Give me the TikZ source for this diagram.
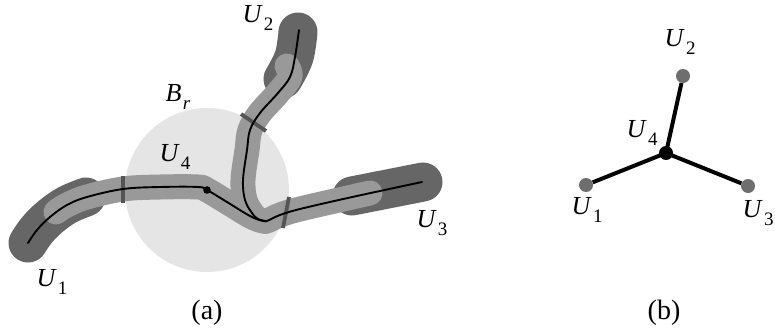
\documentclass[tikz,border=0pt]{standalone}
\usepackage{fontspec}
\setmainfont{Liberation Serif}
\newcommand\lab[2]{\textit{#1}\kern0.05em\raisebox{-0.3em}{\fontsize{19}{19}\selectfont #2}}
\definecolor{ball}{HTML}{E5E5E5}
\definecolor{tubemid}{HTML}{999999}
\definecolor{tubedark}{HTML}{666666}
\definecolor{markc}{HTML}{555555}
\definecolor{dotg}{HTML}{6E6E6E}
\tikzset{
  darktube/.style={draw=tubedark, line width=39pt, line cap=round, line join=round},
  midtube/.style={draw=tubemid, line width=25pt, line cap=round, line join=round},
  curve/.style={draw=black, line width=1.9pt, line cap=round},
  cutmark/.style={draw=markc, line width=3.8pt},
  lbl/.style={font=\fontsize{26}{26}\selectfont, inner sep=0pt},
  captext/.style={font=\fontsize{28}{28}\selectfont, inner sep=0pt},
  gdot/.style={circle, fill=dotg, minimum size=14pt, inner sep=0pt},
  bdot/.style={circle, fill=black, minimum size=14pt, inner sep=0pt},
  linkedge/.style={draw=black, line width=4pt}
}
\begin{document}
\begin{tikzpicture}[x=1pt,y=-1pt]
\useasboundingbox (0,0) rectangle (775,329);
% ball
\fill[ball] (207,190) circle (82);
% dark tubes
\draw[darktube] plot[smooth, tension=0.6] coordinates {(28,243) (37,230) (50,217) (67,205) (86,197)};
\draw[darktube] plot[smooth, tension=0.6] coordinates {(298,32) (294,57) (283,79)};
\draw[darktube] (352,196) -- (423,182);
% medium tubes
\draw[midtube] plot[smooth, tension=0.6] coordinates {(56,212) (67,205) (87,197) (123,189) (160,187) (198,187) (207,190) (227,202) (250,216) (263,221) (268,220.5) (280,215) (300,209) (350,197.5) (370,193)};
\draw[midtube] plot[smooth, tension=0.6] coordinates {(287,66) (290,77) (278,93) (260,113) (250,130) (247,150) (243,180) (245,200) (252,213) (258,219) (266,221)};
% cut marks
\draw[cutmark] (123,176) -- (123,203);
\draw[cutmark] (241,114) -- (266,131);
\draw[cutmark] (289,197) -- (283,228);
% black curves
\draw[curve] plot[smooth, tension=0.6] coordinates {(28,243) (37,230) (50,217) (67,205) (87,197) (123,189) (160,187) (198,187) (207,190) (227,202) (250,216) (263,221) (268,220.5) (280,215) (300,209) (350,197.5) (422,182)};
\draw[curve] plot[smooth, tension=0.6] coordinates {(299,30) (295,57) (290,77) (278,93) (260,113) (250,130) (247,150) (243,180) (245,200) (252,213) (258,219) (266,221)};
\fill[black] (207,190) circle (3.8);
% labels (a)
\node[lbl] (la2) at (258,18) {\lab{U}{2}};
\node[lbl] (lbr) at (178,97) {\lab{B}{\textit{r}}};
\node[lbl] (la4) at (175,157) {\lab{U}{4}};
\node[lbl] (la1) at (52,282) {\lab{U}{1}};
\node[lbl] (la3) at (432,223) {\lab{U}{3}};
\node[captext] (capa) at (207,313) {(a)};
% graph (b)
\node[gdot] (n2) at (683,76) {};
\node[gdot] (n1) at (586,185) {};
\node[gdot] (n3) at (748,186) {};
\coordinate (n4) at (666,153);
\draw[linkedge] (n4) -- (n2);
\draw[linkedge] (n4) -- (n1);
\draw[linkedge] (n4) -- (n3);
\node[bdot] (c4) at (n4) {};
\node[lbl] (lb2) at (680,42) {\lab{U}{2}};
\node[lbl] (lb4) at (642,133) {\lab{U}{4}};
\node[lbl] (lb1) at (587,210) {\lab{U}{1}};
\node[lbl] (lb3) at (758,213) {\lab{U}{3}};
\node[captext] (capb) at (664,313) {(b)};
\end{tikzpicture}
\end{document}
